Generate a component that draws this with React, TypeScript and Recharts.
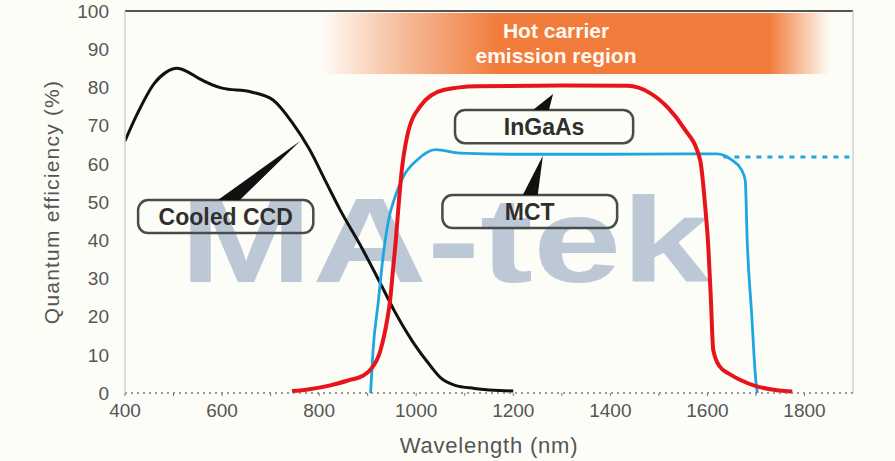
import { LineChart, Line, XAxis, YAxis, ReferenceArea, ReferenceLine, Label } from 'recharts'

// Cooled CCD (black)
const CCD_WL = [400, 425, 460, 485, 507, 530, 550, 600, 660, 705, 745, 780, 815, 843, 890, 925, 955, 995, 1030, 1050, 1080, 1120, 1200]
const CCD_QE = [66, 73, 81, 84, 85, 84, 82.5, 79.8, 78.8, 76.7, 70.7, 63.8, 55, 48, 37.5, 29, 21.5, 13, 7, 4, 2, 1.2, 0.5]

// InGaAs (red)
const INGAAS_WL = [744, 780, 823, 860, 890, 905, 926, 940, 946, 952, 958, 963, 970, 981, 1008, 1056, 1125, 1300, 1435, 1482, 1520, 1550, 1585, 1596, 1601, 1607, 1612, 1625, 1645, 1668, 1700, 1740, 1775]
const INGAAS_QE = [0.5, 1, 2, 3.3, 4.5, 6, 11, 19, 24, 32, 40, 48, 58, 67, 75, 79.3, 80.3, 80.5, 80.4, 78.5, 74.5, 69.6, 61, 48, 40, 25, 11.3, 7, 5, 3.4, 1.8, 0.8, 0.4]

// MCT (blue) + dashed extension
const MCT_WL = [906, 911, 922, 932, 946, 953, 973, 1002, 1040, 1090, 1200, 1400, 1550, 1620, 1650, 1670, 1678, 1682, 1691, 1700, 1703]
const MCT_QE = [0, 11, 24, 36, 47, 50, 56.5, 61, 63.7, 62.8, 62.5, 62.5, 62.6, 62.6, 61, 58.5, 55.6, 40, 21, 3, 0]
const MCT_EXT_WL = [1633, 1900]
const MCT_EXT_QE = [61.8, 61.8]

const X_TICKS = [400, 500, 600, 700, 800, 900, 1000, 1100, 1200, 1300, 1400, 1500, 1600, 1700, 1800]
const Y_TICKS = [0, 10, 20, 30, 40, 50, 60, 70, 80, 90, 100]

const toRows = (wl: number[], qe: number[]) => wl.map((w, i) => ({ wl: w, qe: qe[i] }))

const ccd = toRows(CCD_WL, CCD_QE)
const ingaas = toRows(INGAAS_WL, INGAAS_QE)
const mct = toRows(MCT_WL, MCT_QE)
const mctExt = toRows(MCT_EXT_WL, MCT_EXT_QE)

const FONT = '"Liberation Sans", Arial, Helvetica, sans-serif'

function HotBand(props: any) {
  const { x, y, width, height } = props
  return (
    <g>
      <defs>
        <linearGradient id="hotGrad" x1="0" y1="0" x2="1" y2="0">
          <stop offset="0%" stopColor="#f07532" stopOpacity={0} />
          <stop offset="15%" stopColor="#f07532" stopOpacity={0.45} />
          <stop offset="35%" stopColor="#f07532" stopOpacity={0.95} />
          <stop offset="88%" stopColor="#f07532" stopOpacity={0.95} />
          <stop offset="100%" stopColor="#f07532" stopOpacity={0} />
        </linearGradient>
      </defs>
      <rect x={x} y={y} width={width} height={height} fill="url(#hotGrad)" />
      <text x={556} y={y + 25} textAnchor="middle" fill="#fffaf2" fontFamily={FONT} fontWeight="bold" fontSize={21}>Hot carrier</text>
      <text x={556} y={y + 50} textAnchor="middle" fill="#fffaf2" fontFamily={FONT} fontWeight="bold" fontSize={21}>emission region</text>
    </g>
  )
}

function Watermark(props: any) {
  const { x, y, width, height } = props
  return (
    <text x={x} y={y + height} textLength={width} lengthAdjust="spacingAndGlyphs" fontFamily={FONT}
      fontWeight="bold" fontSize={height * 1.38} fill="#b2bfd2" opacity={0.85}>MA-tek</text>
  )
}

const callout = (text: string) => (props: any) => {
  const { x, y, width, height } = props
  return (
    <g>
      <rect x={x} y={y} width={width} height={height} rx={10} ry={10} fill="none" stroke="#4a4a4a" strokeWidth={2.5} />
      <text x={x + width / 2} y={y + height / 2 + 8} textAnchor="middle" fontFamily={FONT} fontWeight="bold"
        fontSize={23} fill="#2f2f2f">{text}</text>
    </g>
  )
}

const wedge = (base: number) => (props: any) => {
  const { x1, y1, x2, y2 } = props
  return <polygon points={`${x1 - base / 2},${y1} ${x1 + base / 2},${y1} ${x2},${y2}`} fill="#111" />
}

export default function App() {
  return (
    <div style={{ position: 'absolute', left: 0, top: 0, width: 895, height: 461, background: '#fdfdf8' }}>
      <LineChart width={895} height={461} margin={{ top: 11, right: 42, bottom: 6, left: 40 }}>
        <XAxis dataKey="wl" type="number" domain={[400, 1900]} ticks={X_TICKS} allowDataOverflow
          tickFormatter={(v: number) => (v % 200 === 0 ? String(v) : '')}
          axisLine={{ stroke: '#777', strokeDasharray: '2 4', strokeWidth: 1.5 }}
          tickLine={{ stroke: '#777' }} tickSize={3} tickMargin={8} height={62}
          tick={{ fill: '#555', fontSize: 19, fontFamily: FONT }}>
          <Label value="Wavelength (nm)" position="insideBottom" offset={2}
            style={{ fill: '#555', fontSize: 22, fontFamily: FONT, letterSpacing: 0.8 }} />
        </XAxis>
        <YAxis type="number" domain={[0, 100]} ticks={Y_TICKS} width={85} axisLine={{ stroke: '#cfcfcf', strokeWidth: 1.5 }}
          tickLine={false} tickMargin={10} tick={{ fill: '#555', fontSize: 19, fontFamily: FONT }}>
          <Label value="Quantum efficiency (%)" angle={-90} position="insideLeft" offset={12}
            style={{ fill: '#555', fontSize: 21, fontFamily: FONT, letterSpacing: 1.2, textAnchor: 'middle' }} />
        </YAxis>

        <ReferenceLine y={100} stroke="#555" strokeWidth={2} />
        <ReferenceLine x={1900} stroke="#cfcfcf" strokeWidth={1.5} />

        <ReferenceArea x1={802} x2={1853} y1={83.5} y2={99.5} shape={HotBand} />
        <ReferenceArea x1={513} x2={1605} y1={29} y2={51.7} shape={Watermark} />

        <ReferenceArea x1={427} x2={788} y1={41.9} y2={50.5} shape={callout('Cooled CCD')} />
        <ReferenceArea x1={1080} x2={1447} y1={65.4} y2={74.1} shape={callout('InGaAs')} />
        <ReferenceArea x1={1054} x2={1414} y1={43.2} y2={51.8} shape={callout('MCT')} />

        <ReferenceLine segment={[{ x: 614, y: 50.5 }, { x: 761, y: 66 }]} shape={wedge(22)} />
        <ReferenceLine segment={[{ x: 1257, y: 74.1 }, { x: 1282, y: 78.3 }]} shape={wedge(16)} />
        <ReferenceLine segment={[{ x: 1235, y: 51.8 }, { x: 1261, y: 62.1 }]} shape={wedge(15)} />

        <Line data={ccd} dataKey="qe" type="monotone" stroke="#111" strokeWidth={3} dot={false} isAnimationActive={false} />
        <Line data={mct} dataKey="qe" type="monotone" stroke="#1ea6e2" strokeWidth={2.8} dot={false} isAnimationActive={false} />
        <Line data={mctExt} dataKey="qe" type="linear" stroke="#1ea6e2" strokeWidth={3} strokeDasharray="5 6" dot={false} isAnimationActive={false} />
        <Line data={ingaas} dataKey="qe" type="monotone" stroke="#e8141c" strokeWidth={4} dot={false} isAnimationActive={false} />
      </LineChart>
    </div>
  )
}
